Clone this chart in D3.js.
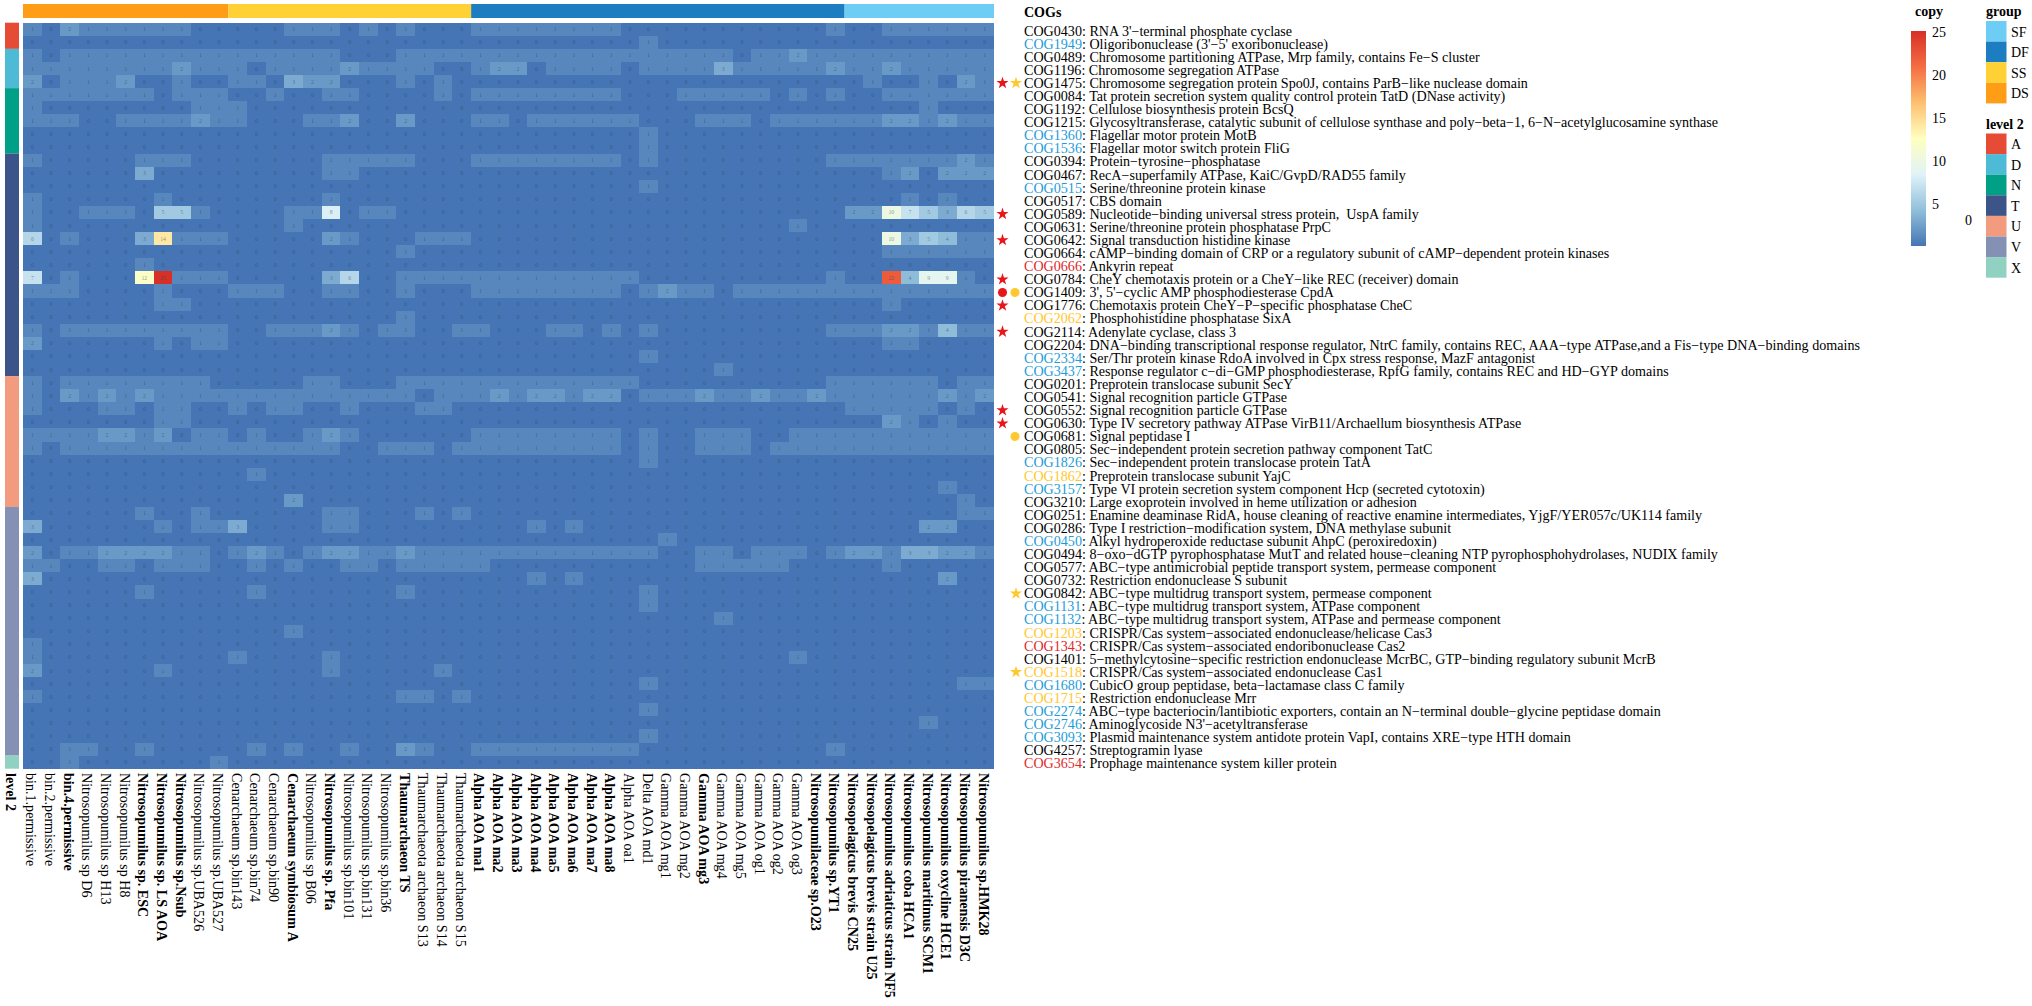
<!DOCTYPE html>
<html>
<head>
<meta charset="utf-8">
<script src="https://cdn.jsdelivr.net/npm/d3@7"></script>
<style>
html,body{margin:0;padding:0;background:#fff}
svg{display:block}
text{font-family:"Liberation Serif","Times New Roman",serif;fill:#000}
</style>
</head>
<body>
<svg id="c" width="2032" height="1006"></svg>
<script>
const columns = ["bin.1.permissive","bin.2.permissive","bin.4.permissive","Nitrosopumilus sp D6","Nitrosopumilus sp H13","Nitrosopumilus sp H8","Nitrosopumilus sp. ESC","Nitrosopumilus sp. LS AOA","Nitrosopumilus sp.Nsub","Nitrosopumilus sp.UBA526","Nitrosopumilus sp.UBA527","Cenarchaeum sp.bin143","Cenarchaeum sp.bin74","Cenarchaeum sp.bin90","Cenarchaeum symbiosum A","Nitrosopumilus sp B06","Nitrosopumilus sp. Pfa","Nitrosopumilus sp.bin101","Nitrosopumilus sp.bin131","Nitrosopumilus sp.bin36","Thaumarchaeon TS","Thaumarchaeota archaeon S13","Thaumarchaeota archaeon S14","Thaumarchaeota archaeon S15","Alpha AOA ma1","Alpha AOA ma2","Alpha AOA ma3","Alpha AOA ma4","Alpha AOA ma5","Alpha AOA ma6","Alpha AOA ma7","Alpha AOA ma8","Alpha AOA oa1","Delta AOA md1","Gamma AOA mg1","Gamma AOA mg2","Gamma AOA mg3","Gamma AOA mg4","Gamma AOA mg5","Gamma AOA og1","Gamma AOA og2","Gamma AOA og3","Nitrosopumilaceae sp.O23","Nitrosopumilus sp.YT1","Nitrosopelagicus brevis CN25","Nitrosopelagicus brevis strain U25","Nitrosopumilus adriaticus strain NF5","Nitrosopumilus coba HCA1","Nitrosopumilus maritimus SCM1","Nitrosopumilus oxycline HCE1","Nitrosopumilus piranensis D3C","Nitrosopumilus sp.HMK28"];
const boldColumns = ["bin.4.permissive","Nitrosopumilus sp. ESC","Nitrosopumilus sp. LS AOA","Nitrosopumilus sp.Nsub","Cenarchaeum symbiosum A","Nitrosopumilus sp. Pfa","Thaumarchaeon TS","Alpha AOA ma1","Alpha AOA ma2","Alpha AOA ma3","Alpha AOA ma4","Alpha AOA ma5","Alpha AOA ma6","Alpha AOA ma7","Alpha AOA ma8","Gamma AOA mg3","Nitrosopumilaceae sp.O23","Nitrosopumilus sp.YT1","Nitrosopelagicus brevis CN25","Nitrosopelagicus brevis strain U25","Nitrosopumilus adriaticus strain NF5","Nitrosopumilus coba HCA1","Nitrosopumilus maritimus SCM1","Nitrosopumilus oxycline HCE1","Nitrosopumilus piranensis D3C","Nitrosopumilus sp.HMK28"];
const cogIds = ["COG0430","COG1949","COG0489","COG1196","COG1475","COG0084","COG1192","COG1215","COG1360","COG1536","COG0394","COG0467","COG0515","COG0517","COG0589","COG0631","COG0642","COG0664","COG0666","COG0784","COG1409","COG1776","COG2062","COG2114","COG2204","COG2334","COG3437","COG0201","COG0541","COG0552","COG0630","COG0681","COG0805","COG1826","COG1862","COG3157","COG3210","COG0251","COG0286","COG0450","COG0494","COG0577","COG0732","COG0842","COG1131","COG1132","COG1203","COG1343","COG1401","COG1518","COG1680","COG1715","COG2274","COG2746","COG3093","COG4257","COG3654"];
const cogNames = ["RNA 3'−terminal phosphate cyclase","Oligoribonuclease (3'−5' exoribonuclease)","Chromosome partitioning ATPase, Mrp family, contains Fe−S cluster","Chromosome segregation ATPase","Chromosome segregation protein Spo0J, contains ParB−like nuclease domain","Tat protein secretion system quality control protein TatD (DNase activity)","Cellulose biosynthesis protein BcsQ","Glycosyltransferase, catalytic subunit of cellulose synthase and poly−beta−1, 6−N−acetylglucosamine synthase","Flagellar motor protein MotB","Flagellar motor switch protein FliG","Protein−tyrosine−phosphatase","RecA−superfamily ATPase, KaiC/GvpD/RAD55 family","Serine/threonine protein kinase","CBS domain","Nucleotide−binding universal stress protein,  UspA family","Serine/threonine protein phosphatase PrpC","Signal transduction histidine kinase","cAMP−binding domain of CRP or a regulatory subunit of cAMP−dependent protein kinases","Ankyrin repeat","CheY chemotaxis protein or a CheY−like REC (receiver) domain","3', 5'−cyclic AMP phosphodiesterase CpdA","Chemotaxis protein CheY−P−specific phosphatase CheC","Phosphohistidine phosphatase SixA","Adenylate cyclase, class 3","DNA−binding transcriptional response regulator, NtrC family, contains REC, AAA−type ATPase,and a Fis−type DNA−binding domains","Ser/Thr protein kinase RdoA involved in Cpx stress response, MazF antagonist","Response regulator c−di−GMP phosphodiesterase, RpfG family, contains REC and HD−GYP domains","Preprotein translocase subunit SecY","Signal recognition particle GTPase","Signal recognition particle GTPase","Type IV secretory pathway ATPase VirB11/Archaellum biosynthesis ATPase","Signal peptidase I","Sec−independent protein secretion pathway component TatC","Sec−independent protein translocase protein TatA","Preprotein translocase subunit YajC","Type VI protein secretion system component Hcp (secreted cytotoxin)","Large exoprotein involved in heme utilization or adhesion","Enamine deaminase RidA, house cleaning of reactive enamine intermediates, YjgF/YER057c/UK114 family","Type I restriction−modification system, DNA methylase subunit","Alkyl hydroperoxide reductase subunit AhpC (peroxiredoxin)","8−oxo−dGTP pyrophosphatase MutT and related house−cleaning NTP pyrophosphohydrolases, NUDIX family","ABC−type antimicrobial peptide transport system, permease component","Restriction endonuclease S subunit","ABC−type multidrug transport system, permease component","ABC−type multidrug transport system, ATPase component","ABC−type multidrug transport system, ATPase and permease component","CRISPR/Cas system−associated endonuclease/helicase Cas3","CRISPR/Cas system−associated endoribonuclease Cas2","5−methylcytosine−specific restriction endonuclease McrBC, GTP−binding regulatory subunit McrB","CRISPR/Cas system−associated endonuclease Cas1","CubicO group peptidase, beta−lactamase class C family","Restriction endonuclease Mrr","ABC−type bacteriocin/lantibiotic exporters, contain an N−terminal double−glycine peptidase domain","Aminoglycoside N3'−acetyltransferase","Plasmid maintenance system antidote protein VapI, contains XRE−type HTH domain","Streptogramin lyase","Prophage maintenance system killer protein"];
const blueCogs = ["COG1949","COG1360","COG1536","COG0515","COG2334","COG3437","COG1826","COG3157","COG0450","COG1131","COG1132","COG1680","COG2274","COG2746","COG3093"];
const yellowCogs = ["COG2062","COG1862","COG1203","COG1518","COG1715"];
const redCogs = ["COG0666","COG1343","COG3654"];
const redStars = ["COG1475","COG0589","COG0642","COG0784","COG1776","COG2114","COG0552","COG0630"];
const yellowStars = ["COG1475","COG0842","COG1518"];
const redDots = ["COG1409"];
const yellowDots = ["COG1409","COG0681"];
const groupNames = ["DS","SS","DF","SF"];
const groupSpans = [11,13,20,8];
const levelNames = ["A","D","N","T","U","V","X"];
const levelSpans = [2,3,5,17,10,19,1];
const legendGroups = ["SF","DF","SS","DS"];
const copyTicks = [25,20,15,10,5];
const copies = [
[1,0,2,1,1,1,1,1,1,0,0,0,0,0,1,1,1,0,1,0, 1,0,0,0,1,1,1,1,1,1,1,1,0,0,0,0,0,0,0,0, 0,0,0,1,0,0,1,1,1,1,1,1],
[0,0,0,0,0,0,0,0,0,0,0,0,0,0,0,0,0,0,0,0, 0,0,0,0,0,0,0,0,0,0,0,0,0,1,0,0,0,0,0,0, 0,0,0,0,0,0,0,0,0,0,0,0],
[1,0,1,1,1,1,1,1,1,1,1,1,1,1,1,1,1,0,0,0, 1,1,1,1,1,1,1,1,1,1,1,1,1,1,1,1,1,1,0,1, 1,2,1,1,1,1,1,1,1,1,1,1],
[1,1,1,1,1,1,1,1,2,1,1,1,0,1,1,1,1,2,1,1, 1,1,0,0,1,2,2,0,1,1,1,1,0,1,1,1,1,3,1,1, 1,1,1,2,1,1,2,1,1,1,1,1],
[2,0,1,1,1,2,0,0,1,0,0,1,1,0,3,2,2,0,0,0, 1,0,1,0,0,0,0,0,0,0,0,0,0,0,0,0,0,0,0,0, 0,0,0,0,0,1,0,0,1,0,2,1],
[1,1,1,1,1,1,1,0,1,1,1,0,0,1,0,0,1,1,0,0, 0,0,1,0,1,1,1,1,1,1,1,1,0,0,0,1,1,1,1,1, 0,1,0,1,0,0,1,1,1,1,1,1],
[1,0,0,0,0,0,0,0,0,1,1,1,0,0,0,0,0,0,0,0, 0,0,0,0,0,0,0,0,0,0,0,0,0,0,0,0,0,0,0,0, 0,0,0,0,0,0,0,0,1,0,0,0],
[1,1,1,0,0,1,1,1,1,2,1,1,0,0,0,1,1,2,0,0, 2,0,0,0,1,1,0,1,1,1,1,1,1,0,0,0,1,1,1,0, 1,1,1,1,1,1,2,2,1,2,1,1],
[0,0,0,0,0,0,0,0,0,0,0,0,0,0,0,0,0,0,0,0, 0,0,0,0,0,0,0,0,0,0,0,0,0,1,0,0,0,0,0,0, 0,0,0,0,0,0,0,0,0,0,0,0],
[0,0,0,0,0,0,0,0,0,0,0,0,0,0,0,0,0,0,0,0, 0,0,0,0,0,0,0,0,0,0,0,0,0,1,0,0,0,0,0,0, 0,0,0,0,0,0,0,0,0,0,0,0],
[1,0,0,0,0,0,1,1,1,0,0,0,0,0,0,0,1,1,1,1, 1,0,0,0,1,1,1,1,1,1,1,1,0,1,0,0,0,0,0,0, 0,0,0,1,1,1,1,1,1,1,2,1],
[0,0,0,0,0,0,3,0,0,0,0,0,0,0,0,0,1,1,0,0, 0,0,0,0,0,0,0,0,0,0,0,0,0,0,0,0,0,0,0,0, 0,0,0,0,0,0,1,2,0,2,2,2],
[0,0,0,0,0,0,0,0,0,0,0,0,0,0,0,0,0,0,0,0, 0,0,0,0,0,0,0,0,0,0,0,0,0,1,0,0,0,0,0,0, 0,0,0,0,0,0,0,0,0,0,0,0],
[1,0,0,0,0,0,0,1,0,0,0,0,0,0,0,0,1,0,0,0, 0,0,0,0,0,0,0,0,0,0,0,0,0,0,0,0,0,0,0,0, 0,0,0,0,0,0,0,1,0,1,0,0],
[1,0,0,1,1,1,0,5,5,1,0,0,0,0,1,1,8,0,1,1, 0,0,0,0,0,0,0,0,0,0,0,0,0,0,0,0,0,0,0,0, 0,0,0,0,2,2,10,7,5,3,6,5],
[1,0,0,0,0,0,0,0,0,0,0,0,0,0,1,0,0,0,0,0, 0,0,0,0,0,0,0,0,0,0,0,0,0,0,0,0,0,0,0,0, 0,1,0,0,0,0,0,0,0,0,0,0],
[6,0,1,0,0,0,3,14,1,1,1,0,0,0,0,0,2,1,0,0, 0,1,1,1,0,0,0,0,0,0,0,0,0,0,0,0,0,0,0,0, 0,0,0,0,0,0,10,3,5,4,1,1],
[0,0,0,0,0,0,0,0,0,0,0,0,0,0,0,0,0,0,0,0, 1,0,0,0,0,0,0,0,0,0,0,0,0,0,0,0,0,0,0,0, 0,0,0,0,0,0,1,1,1,1,1,1],
[0,0,0,0,0,0,1,0,0,0,0,0,0,0,0,0,0,0,0,0, 0,0,0,0,0,0,0,0,0,0,0,0,0,0,0,0,0,0,0,0, 0,0,0,0,0,0,0,0,0,0,0,0],
[7,0,1,0,0,0,12,25,1,1,1,0,0,0,0,0,3,6,0,0, 1,1,1,1,1,1,1,1,1,1,1,1,1,0,0,0,0,0,0,0, 0,0,0,1,0,0,22,4,9,9,1,0],
[1,1,1,0,0,0,0,1,0,0,0,1,1,1,0,0,1,1,0,0, 1,0,0,0,1,1,1,1,1,1,1,1,0,1,2,1,1,0,1,1, 1,1,1,1,1,1,1,1,1,1,1,1],
[0,0,0,0,0,0,0,1,1,0,0,0,0,0,0,0,0,0,0,0, 0,0,0,0,0,0,0,0,0,0,0,0,0,0,0,0,0,0,0,0, 0,0,0,0,0,0,1,0,0,0,0,0],
[0,0,0,0,0,0,0,0,0,0,0,0,0,0,0,0,0,0,0,0, 1,0,0,0,0,0,0,0,0,0,0,0,0,0,0,0,0,0,0,0, 0,0,0,0,0,0,0,0,0,0,0,0],
[1,0,1,1,1,1,1,1,1,1,1,0,0,1,1,1,2,1,0,1, 1,0,0,1,1,0,0,0,1,1,0,1,0,1,0,0,0,0,0,0, 0,0,0,1,1,1,2,2,1,4,1,1],
[2,0,0,0,0,0,0,1,0,1,1,0,0,0,0,0,0,0,0,0, 0,0,0,0,0,0,0,0,0,0,0,0,0,0,0,0,0,0,0,0, 0,0,0,0,0,0,1,1,0,0,0,0],
[0,0,0,0,0,0,0,0,0,0,0,0,0,0,0,0,0,0,0,0, 0,0,0,0,0,0,0,0,0,0,0,0,0,1,0,0,0,0,0,0, 0,0,0,0,0,0,0,0,0,0,0,0],
[0,0,0,0,0,0,0,0,0,0,0,0,0,0,0,0,0,0,0,0, 0,0,0,0,0,0,0,0,0,0,0,0,0,0,0,0,0,1,0,0, 0,0,0,0,0,0,0,0,0,0,0,0],
[1,0,1,1,1,1,1,1,1,1,0,0,0,0,0,1,1,0,0,0, 1,1,1,1,1,1,1,1,1,1,1,1,1,0,0,0,0,0,0,0, 0,0,0,1,1,1,1,1,1,0,1,1],
[1,0,2,1,2,1,2,1,1,1,1,1,1,1,1,1,1,1,1,1, 1,0,1,1,1,2,1,2,2,1,2,2,0,1,1,1,2,1,1,2, 1,1,2,1,1,1,1,1,1,2,1,2],
[1,0,0,0,1,1,0,1,1,0,0,1,0,1,1,0,0,1,0,0, 0,1,1,0,0,0,0,0,0,0,0,0,0,0,0,0,0,0,0,0, 0,0,0,0,1,1,1,1,1,0,1,0],
[0,0,0,0,0,0,0,1,1,0,0,0,0,0,0,0,0,0,0,0, 0,0,0,0,0,0,0,0,0,0,0,0,0,0,0,0,0,0,0,0, 0,0,0,0,0,0,2,1,0,1,0,0],
[1,1,1,1,2,2,1,2,0,1,1,0,1,0,0,1,2,1,0,0, 0,0,0,0,1,1,1,1,1,1,1,1,0,1,0,0,1,1,1,0, 0,1,1,1,1,1,1,1,1,1,1,1],
[1,0,1,1,1,1,1,1,1,1,1,1,1,1,1,1,1,0,0,1, 1,1,0,1,1,1,1,1,1,1,1,1,0,1,0,0,1,1,1,0, 1,1,1,1,1,1,1,1,1,1,1,1],
[0,0,0,0,0,0,0,0,0,0,0,0,0,0,0,0,0,0,0,0, 0,0,0,0,0,0,0,0,0,0,0,0,0,1,0,0,0,0,0,0, 0,0,0,0,0,0,0,0,0,0,0,0],
[0,0,0,0,0,0,0,0,0,0,0,0,1,0,0,0,0,0,0,0, 0,0,0,0,0,0,0,0,0,0,0,0,0,0,0,0,0,0,0,0, 0,0,0,0,0,0,0,0,0,0,0,0],
[0,0,0,0,0,0,0,0,0,0,0,0,0,0,0,0,0,0,0,0, 0,0,0,0,0,0,0,0,0,0,0,0,0,0,0,0,0,0,0,0, 0,0,0,0,0,0,0,0,0,1,0,0],
[0,0,0,0,0,0,0,0,0,0,0,0,0,0,2,0,0,0,0,0, 0,0,0,0,0,0,0,0,0,0,0,0,0,0,0,0,0,0,0,0, 0,0,0,0,0,0,0,0,0,0,1,0],
[0,0,0,0,0,0,1,0,0,1,0,0,0,0,0,0,1,1,0,0, 0,1,0,1,0,0,0,0,0,0,0,0,0,0,0,0,0,0,0,0, 0,0,0,0,0,0,0,0,0,0,1,1],
[3,0,0,0,0,0,0,1,0,1,1,3,0,0,0,0,1,1,0,0, 0,0,0,0,0,0,0,1,0,1,0,0,0,0,0,0,0,0,0,0, 0,0,0,0,0,0,0,0,2,2,0,0],
[0,0,0,0,0,0,0,0,0,0,0,0,0,0,0,0,0,0,0,0, 0,0,0,0,0,0,0,0,0,0,0,0,0,0,1,0,0,0,0,0, 0,0,0,0,0,0,0,0,0,0,0,0],
[2,0,1,1,2,2,2,2,1,1,0,1,2,1,0,1,2,2,1,1, 2,1,1,1,1,1,1,1,1,1,1,1,1,1,0,0,1,1,0,1, 1,1,0,1,2,2,1,3,3,2,2,1],
[1,1,0,0,1,1,0,1,1,1,0,0,1,0,1,0,0,1,1,0, 1,1,1,1,1,0,0,0,0,0,0,0,0,0,0,0,1,1,1,1, 1,0,0,0,0,0,1,0,0,0,0,0],
[3,0,0,0,0,0,0,0,0,0,0,0,0,0,0,0,0,0,0,0, 0,0,0,0,0,0,0,1,0,1,0,0,0,0,0,0,0,0,0,0, 0,0,0,0,0,0,0,0,0,2,0,0],
[0,0,0,0,0,0,1,0,0,0,0,0,1,0,0,0,0,0,0,0, 1,0,0,0,0,0,0,0,0,0,0,0,0,1,0,0,0,0,0,0, 0,0,0,0,0,0,0,0,0,0,0,0],
[0,0,0,0,0,0,0,0,0,0,0,0,0,0,0,0,0,0,0,0, 0,0,0,0,0,0,0,0,0,0,0,0,0,1,0,0,0,0,0,0, 0,0,0,0,0,0,0,0,0,0,0,0],
[0,0,0,0,0,0,0,0,0,0,0,0,0,0,0,0,0,0,0,0, 0,0,0,0,0,0,0,0,0,0,0,0,0,0,0,0,0,1,0,0, 0,0,0,0,0,0,0,0,0,0,0,0],
[0,0,0,0,0,0,0,0,0,0,0,0,0,0,1,0,0,0,0,0, 0,0,0,0,0,0,0,0,0,0,0,0,0,0,0,0,0,0,0,0, 0,0,0,0,0,0,0,0,0,0,0,0],
[1,0,0,0,0,0,0,0,0,0,0,0,0,0,0,0,0,0,0,0, 0,0,0,0,0,0,0,0,0,0,0,0,0,0,0,0,0,0,0,0, 0,0,0,0,0,0,0,0,0,0,0,0],
[1,0,0,0,0,0,0,0,0,0,0,1,0,0,0,0,1,0,0,0, 0,0,0,0,0,0,0,0,0,0,0,0,0,0,0,0,0,0,0,0, 0,1,0,0,0,0,0,0,0,0,0,0],
[2,0,0,0,0,0,0,1,0,0,0,0,0,0,0,0,1,0,0,0, 0,0,1,0,0,0,0,0,0,0,0,0,0,0,0,0,0,0,0,0, 0,0,0,0,0,0,0,0,0,0,0,0],
[0,0,0,0,0,0,0,0,0,0,0,0,0,0,0,0,0,0,0,0, 0,0,0,0,0,0,0,0,0,0,0,0,0,1,0,0,0,0,0,0, 0,0,0,0,0,0,0,0,0,0,1,1],
[1,0,0,0,0,0,0,0,0,0,0,0,0,0,0,0,0,0,0,0, 1,1,0,1,0,0,0,0,0,0,0,0,0,0,0,0,0,0,0,0, 0,0,0,0,0,0,0,0,0,0,0,0],
[0,0,0,0,0,0,0,0,0,0,0,0,0,0,0,0,0,0,0,0, 0,0,0,0,0,0,0,0,0,0,0,0,0,1,0,0,0,0,0,0, 0,0,0,0,0,0,0,0,0,0,0,0],
[0,0,0,0,0,0,0,0,0,0,0,0,0,0,0,0,0,0,0,0, 0,0,0,0,0,0,0,0,0,0,0,0,0,0,0,0,0,0,0,0, 0,0,0,0,0,0,0,0,1,0,0,0],
[0,0,0,0,0,0,0,0,0,0,0,0,0,0,0,0,0,0,0,0, 0,0,0,0,0,0,0,0,0,0,0,0,0,1,0,0,0,0,0,0, 0,0,0,0,0,0,0,0,0,0,0,0],
[0,0,1,1,0,0,1,0,0,0,0,0,1,0,1,0,0,1,0,0, 2,1,0,0,1,1,1,1,1,1,1,1,1,0,0,0,0,0,0,0, 0,0,0,1,0,0,0,0,0,0,0,0],
[0,0,1,0,0,0,0,0,0,0,1,0,0,0,0,0,0,0,0,0, 0,0,0,0,0,0,0,0,0,0,0,0,0,0,0,0,0,0,0,0, 0,0,0,0,0,0,0,0,0,0,0,0]
];

const svg = d3.select("#c");
const x = d3.scaleBand().domain(d3.range(columns.length)).range([23,994]);
const y = d3.scaleBand().domain(d3.range(cogIds.length)).range([22.7,768.7]);
const colorStops = ["#4575b4","#91bfdb","#e0f3f8","#ffffbf","#fdc070","#f46d43","#d73027"];
const color = d3.scaleLinear().domain(colorStops.map((c,i)=>i*25/6)).range(colorStops).interpolate(d3.interpolateRgb);
const groupColor = d3.scaleOrdinal(groupNames,["#FF9E16","#FFD135","#1C7DC1","#6DCDF5"]);
const levelColor = d3.scaleOrdinal(levelNames,["#E64B35","#4DBBD5","#00A087","#3C5488","#F39B7F","#8491B4","#91D1C2"]);

// heatmap cells
const cells = copies.flatMap((row,r)=>row.map((v,c)=>({r,c,v})));
svg.append("g").attr("shape-rendering","crispEdges").selectAll("rect").data(cells).join("rect")
  .attr("x",d=>x(d.c)).attr("y",d=>y(d.r))
  .attr("width",x.bandwidth()+0.3).attr("height",y.bandwidth()+0.3)
  .attr("fill",d=>color(d.v));
svg.append("g").selectAll("text").data(cells).join("text")
  .attr("x",d=>x(d.c)+x.bandwidth()/2).attr("y",d=>y(d.r)+y.bandwidth()/2+2)
  .attr("text-anchor","middle").attr("font-size",5.8)
  .style("fill","#2a3f5c").attr("fill-opacity",.55).text(d=>d.v);

// annotation bars
const cum = a=>{let s=0;return a.map(n=>{const st=s;s+=n;return [st,s];});};
svg.append("g").selectAll("rect").data(cum(groupSpans)).join("rect")
  .attr("x",d=>23+d[0]*x.step()).attr("y",4)
  .attr("width",d=>(d[1]-d[0])*x.step()).attr("height",14)
  .attr("fill",(d,i)=>groupColor(groupNames[i]));
svg.append("g").selectAll("rect").data(cum(levelSpans)).join("rect")
  .attr("x",5).attr("y",d=>22.7+d[0]*y.step())
  .attr("width",14).attr("height",d=>(d[1]-d[0])*y.step())
  .attr("fill",(d,i)=>levelColor(levelNames[i]));
svg.append("text").attr("transform","translate(6,773) rotate(90)")
  .attr("font-size",14.1).attr("font-weight","bold").text("level 2");

// column labels
svg.append("g").selectAll("text").data(columns).join("text")
  .attr("transform",(d,i)=>`translate(${x(i)+x.bandwidth()/2-6},773) rotate(90)`)
  .attr("font-size",14.1)
  .attr("font-weight",d=>boldColumns.includes(d)?"bold":"normal")
  .text(d=>d);

// row labels
const idColor = id => blueCogs.includes(id)?"#1E9CD7":yellowCogs.includes(id)?"#FFC82E":redCogs.includes(id)?"#E0282A":"#000";
const rowLabels = svg.append("g").selectAll("text").data(cogIds).join("text")
  .attr("x",1024).attr("y",(d,i)=>y(i)+y.bandwidth()/2+6.3)
  .attr("font-size",14.1).attr("xml:space","preserve").style("white-space","pre");
rowLabels.append("tspan").style("fill",d=>idColor(d)).text(d=>d);
rowLabels.append("tspan").text((d,i)=>": "+cogNames[i]);
svg.append("text").attr("x",1024).attr("y",17).attr("font-size",14).attr("font-weight","bold").text("COGs");

// markers
const marker = (ids,type,fill,px,dy,size)=>svg.append("g").selectAll("path").data(ids).join("path")
  .attr("d",d3.symbol().type(type).size(size))
  .attr("transform",id=>`translate(${px},${y(cogIds.indexOf(id))+y.bandwidth()/2+dy})`)
  .attr("fill",fill);
marker(redStars,d3.symbolStar,"#E8151B",1002.5,1.5,46);
marker(yellowStars,d3.symbolStar,"#FFC82E",1016,1.5,46);
marker(redDots,d3.symbolCircle,"#E8151B",1002.5,1.5,64);
marker(yellowDots,d3.symbolCircle,"#FFC82E",1015,1.5,64);

// colour legend
const defs = svg.append("defs");
const grad = defs.append("linearGradient").attr("id","copyGrad").attr("x1",0).attr("x2",0).attr("y1",1).attr("y2",0);
grad.selectAll("stop").data(colorStops).join("stop")
  .attr("offset",(d,i)=>i/(colorStops.length-1)).attr("stop-color",d=>d);
const cy = d3.scaleLinear().domain([0,25]).range([246,31]);
svg.append("text").attr("x",1915).attr("y",16).attr("font-size",14).attr("font-weight","bold").text("copy");
svg.append("rect").attr("x",1911).attr("y",cy(25)).attr("width",15).attr("height",cy(0)-cy(25)).attr("fill","url(#copyGrad)");
svg.append("g").selectAll("text").data(copyTicks).join("text")
  .attr("x",1932).attr("y",d=>cy(d)+5.5).attr("font-size",14).text(d=>d);
svg.append("text").attr("x",1965).attr("y",225).attr("font-size",14).text("0");

// group legend
svg.append("text").attr("x",1986).attr("y",16).attr("font-size",14).attr("font-weight","bold").text("group");
const g1 = svg.append("g").selectAll("g").data(legendGroups).join("g").attr("transform",(d,i)=>`translate(1986,${21+i*20.6})`);
g1.append("rect").attr("width",20.5).attr("height",20.6).attr("fill",d=>groupColor(d));
g1.append("text").attr("x",25).attr("y",15.5).attr("font-size",14).text(d=>d);

// level legend
svg.append("text").attr("x",1986).attr("y",129).attr("font-size",14).attr("font-weight","bold").text("level 2");
const g2 = svg.append("g").selectAll("g").data(levelNames).join("g").attr("transform",(d,i)=>`translate(1986,${133.5+i*20.6})`);
g2.append("rect").attr("width",20.5).attr("height",20.6).attr("fill",d=>levelColor(d));
g2.append("text").attr("x",25).attr("y",15.5).attr("font-size",14).text(d=>d);
</script>
</body>
</html>
